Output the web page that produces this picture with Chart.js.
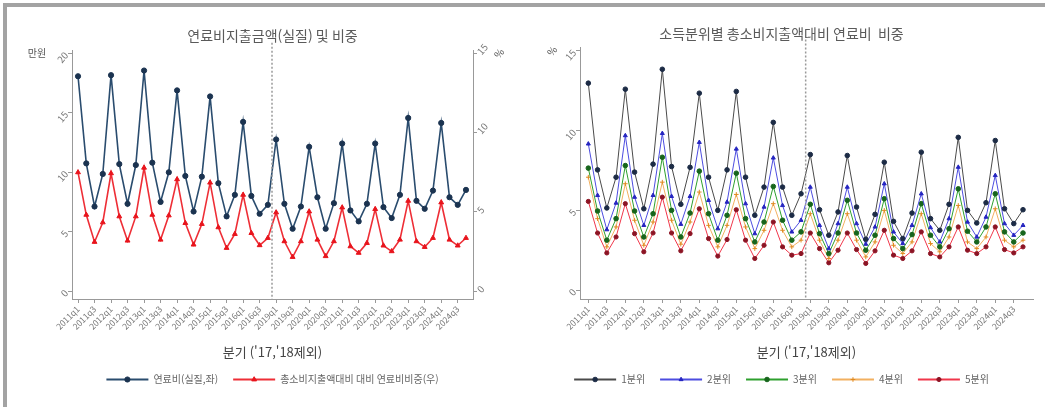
<!DOCTYPE html>
<html lang="ko">
<head>
<meta charset="utf-8">
<script src="https://cdn.jsdelivr.net/npm/chart.js@4.4.1/dist/chart.umd.min.js"></script>
<style>
  html, body { margin: 0; padding: 0; background: #fff; width: 1045px; height: 407px; overflow: hidden; }
  #frame { position: absolute; left: 3px; top: 3px; width: 1042px; height: 404px; box-sizing: border-box;
           border-top: 4px solid #a3a3a3; border-left: 4px solid #a3a3a3; }
  .box { position: absolute; top: 10px; }
  #leftBox { left: 10px; }
  #rightBox { left: 530px; }
</style>
</head>
<body>
<div id="frame"></div>
<div class="box" id="leftBox"><canvas id="fuelChart" width="525" height="392"></canvas></div>
<div class="box" id="rightBox"><canvas id="quintileChart" width="553" height="392"></canvas></div>
<script>
// Quarters ('17, '18 excluded)
const quarterLabels = [
  '2011q1','2011q2','2011q3','2011q4','2012q1','2012q2','2012q3','2012q4',
  '2013q1','2013q2','2013q3','2013q4','2014q1','2014q2','2014q3','2014q4',
  '2015q1','2015q2','2015q3','2015q4','2016q1','2016q2','2016q3','2016q4',
  '2019q1','2019q2','2019q3','2019q4','2020q1','2020q2','2020q3','2020q4',
  '2021q1','2021q2','2021q3','2021q4','2022q1','2022q2','2022q3','2022q4',
  '2023q1','2023q2','2023q3','2023q4','2024q1','2024q2','2024q3','2024q4'
];

// Left chart: fuel spending (real, 10k won) and share of total spending (%)
const fuelCost = [
  18.07, 10.74, 7.11, 9.85, 18.16, 10.68, 7.34, 10.6,
  18.55, 10.8, 7.5, 9.99, 16.88, 9.68, 6.69, 9.62,
  16.37, 9.07, 6.28, 8.09, 14.23, 8.0, 6.5, 7.25,
  12.75, 7.34, 5.24, 7.11, 12.13, 7.89, 5.24, 7.39,
  12.41, 6.78, 5.86, 7.34, 12.41, 7.06, 6.14, 8.09,
  14.56, 7.59, 6.92, 8.45, 14.14, 7.89, 7.25, 8.51
];
const fuelShare = [
  7.49, 4.81, 3.10, 4.33, 7.43, 4.71, 3.18, 4.71,
  7.78, 4.81, 3.24, 4.77, 7.05, 4.29, 2.93, 4.23,
  6.84, 4.02, 2.72, 3.60, 6.07, 3.66, 2.89, 3.35,
  4.96, 3.14, 2.15, 3.14, 5.02, 3.24, 2.20, 3.14,
  5.27, 2.82, 2.41, 3.03, 5.17, 2.87, 2.51, 3.24,
  5.69, 3.14, 2.78, 3.35, 5.59, 3.24, 2.87, 3.35
];

// Right chart: fuel share by income quintile (%)
const q1Share = [
  12.98, 7.54, 5.15, 7.08, 12.6, 7.4, 5.1, 7.9,
  13.85, 7.75, 5.38, 7.7, 12.35, 7.08, 5.0, 7.54,
  12.46, 7.08, 4.69, 6.46, 10.52, 6.46, 4.69, 6.04,
  8.5, 5.04, 3.44, 4.9, 8.44, 5.21, 3.19, 4.75,
  8.02, 4.31, 3.23, 4.83, 8.65, 4.48, 3.75, 5.38,
  9.58, 5.0, 4.21, 5.48, 9.38, 5.1, 4.17, 5.04
];
const q2Share = [
  9.17, 5.94, 3.79, 5.46, 9.69, 5.83, 4.06, 5.94,
  9.83, 5.88, 4.13, 5.88, 9.27, 5.63, 3.85, 5.52,
  8.85, 5.42, 3.54, 5.21, 8.29, 5.31, 3.65, 4.38,
  6.46, 4.06, 2.6, 4.17, 6.46, 4.17, 2.88, 3.96,
  6.67, 3.65, 2.92, 4.06, 6.04, 3.92, 3.02, 4.48,
  7.71, 4.27, 3.33, 4.58, 7.19, 4.17, 3.44, 4.06
];
const q3Share = [
  7.65, 4.96, 3.13, 4.48, 7.81, 4.96, 3.33, 4.79,
  8.33, 5.0, 3.33, 4.83, 7.46, 4.79, 3.13, 4.69,
  7.33, 4.48, 3.02, 4.27, 6.5, 4.38, 3.13, 3.65,
  5.38, 3.54, 2.29, 3.58, 5.63, 3.58, 2.5, 3.44,
  5.73, 3.23, 2.6, 3.48, 5.42, 3.44, 2.71, 3.85,
  6.35, 3.69, 3.02, 3.96, 6.04, 3.65, 3.02, 3.58
];
const q4Share = [
  7.08, 4.48, 2.71, 3.96, 6.67, 4.38, 2.81, 4.27,
  6.77, 4.38, 2.88, 4.27, 6.15, 4.06, 2.71, 4.06,
  6.0, 3.96, 2.6, 3.75, 5.42, 3.75, 2.71, 3.13,
  4.79, 3.13, 1.98, 3.13, 4.79, 3.13, 2.08, 3.02,
  5.0, 2.81, 2.29, 3.02, 4.79, 2.92, 2.4, 3.33,
  5.31, 3.02, 2.6, 3.33, 5.1, 3.13, 2.71, 3.13
];
const q5Share = [
  5.56, 3.58, 2.33, 3.33, 5.42, 3.54, 2.4, 3.58,
  5.83, 3.58, 2.46, 3.54, 5.1, 3.23, 2.13, 3.17,
  5.04, 3.13, 1.98, 2.81, 4.27, 2.71, 2.19, 2.29,
  3.58, 2.6, 1.71, 2.5, 3.58, 2.54, 1.67, 2.46,
  3.75, 2.19, 1.98, 2.46, 3.65, 2.29, 2.08, 2.71,
  3.96, 2.5, 2.29, 2.71, 3.96, 2.54, 2.33, 2.71
];

// Axis ticks
const wonTicks = [0, 5, 10, 15, 20];
const pctTicks = [0, 5, 10, 15];
const labelStep = 2;          // every other quarter gets a label
const breakBetween = ['2016q4', '2019q1'];

Chart.defaults.font.family = "'Noto Sans CJK KR', 'Noto Sans', sans-serif";
Chart.defaults.color = '#666';

const toPoints = arr => arr.map((v, i) => ({x: i, y: v}));

// dotted separator where 2017-2018 is cut out
const breakLine = {
  id: 'breakLine',
  afterDatasetsDraw(chart) {
    const x = chart.scales.x;
    const a = quarterLabels.indexOf(breakBetween[0]);
    const b = quarterLabels.indexOf(breakBetween[1]);
    const px = x.getPixelForValue((a + b) / 2);
    const ctx = chart.ctx;
    ctx.save();
    ctx.strokeStyle = '#9a9a9a';
    ctx.lineWidth = 1.5;
    ctx.setLineDash([2, 2]);
    ctx.beginPath();
    ctx.moveTo(px, chart.chartArea.top - 8);
    ctx.lineTo(px, chart.chartArea.bottom);
    ctx.stroke();
    ctx.restore();
  }
};

// draws the point marker on top of the line swatch in the legend
const legendMarkers = {
  id: 'legendMarkers',
  afterDraw(chart) {
    const lg = chart.legend;
    if (!lg || !lg.legendHitBoxes) return;
    const ctx = chart.ctx;
    const fs = Chart.helpers.toFont(lg.options.labels.font).size;
    const bw = lg.options.labels.boxWidth;
    lg.legendItems.forEach((item, i) => {
      const hb = lg.legendHitBoxes[i];
      const ds = chart.data.datasets[item.datasetIndex];
      ctx.save();
      ctx.fillStyle = ds.pointBackgroundColor;
      ctx.strokeStyle = ds.pointBorderColor;
      Chart.helpers.drawPoint(ctx, {pointStyle: ds.pointStyle, radius: ds.pointRadius, borderWidth: 1, rotation: 0},
        hb.left + bw / 2, hb.top + fs / 2);
      ctx.restore();
    });
  }
};

// unit captions next to the top ticks
const unitLabels = {
  id: 'unitLabels',
  afterDraw(chart, args, opts) {
    const ctx = chart.ctx;
    (opts.items || []).forEach(u => {
      const s = chart.scales[u.scale];
      const y = s.getPixelForValue(u.value);
      const x = u.side === 'left' ? s.right + u.dx : s.left + u.dx;
      ctx.save();
      ctx.translate(x, y + u.dy);
      ctx.rotate(-(u.rotation || 0) * Math.PI / 180);
      ctx.fillStyle = '#555';
      ctx.font = "10px 'Noto Sans CJK KR', sans-serif";
      ctx.textAlign = 'center';
      ctx.textBaseline = 'middle';
      ctx.fillText(u.text, 0, 0);
      ctx.restore();
    });
  }
};

function xAxis(min, max) {
  return {
    type: 'linear', min, max,
    afterBuildTicks: s => {
      s.ticks = quarterLabels.map((l, i) => ({value: i})).filter(t => t.value % labelStep === 0);
    },
    ticks: {autoSkip: false, minRotation: 45, maxRotation: 45, color: '#777', font: {size: 8.5}, padding: 1,
            callback: v => quarterLabels[v]},
    grid: {drawOnChartArea: false, tickLength: 4, color: '#999'},
    border: {color: '#999'},
    title: {display: true, text: "분기 ('17,'18제외)", color: '#444', font: {size: 13}, padding: {top: 0, bottom: 0}},
    afterFit: s => { s.height = 60.5; }
  };
}

function yAxis(position, min, max, tickVals, width) {
  return {
    position, min, max,
    afterBuildTicks: s => { s.ticks = tickVals.map(v => ({value: v})); },
    ticks: {minRotation: 50, maxRotation: 50, color: '#777', font: {size: 9.5}, padding: 2},
    grid: {drawOnChartArea: false, tickLength: 4, color: '#999'},
    border: {color: '#999'},
    afterFit: s => { s.width = width; }
  };
}

function legendOpts() {
  return {
    position: 'bottom',
    labels: {
      boxWidth: 42, boxHeight: 2, padding: 15, color: '#666', font: {size: 10},
      generateLabels: chart => Chart.defaults.plugins.legend.labels.generateLabels(chart)
        .map(l => Object.assign(l, {fillStyle: l.strokeStyle, lineWidth: 0}))
    }
  };
}

function series(label, data, color, markColor, style, radius, width, axis) {
  return {
    label, data: toPoints(data), yAxisID: axis,
    borderColor: color, backgroundColor: color, borderWidth: width,
    pointStyle: style, pointRadius: radius,
    pointBackgroundColor: markColor, pointBorderColor: markColor, pointBorderWidth: 1,
    tension: 0, fill: false
  };
}

new Chart(document.getElementById('fuelChart'), {
  type: 'line',
  data: {
    datasets: [
      series('연료비(실질,좌)', fuelCost, '#2a4c6e', '#1b3350', 'circle', 2.6, 1.6, 'y'),
      series('총소비지출액대비 대비 연료비비중(우)', fuelShare, '#ee2e36', '#e8141c', 'triangle', 2.8, 1.6, 'y1')
    ]
  },
  options: {
    responsive: false, animation: false,
    layout: {padding: {top: 5, bottom: 7.5, left: 0, right: 0}},
    scales: {
      x: xAxis(-0.73, 47.85),
      y: yAxis('left', -0.67, 20.21, wonTicks, 62),
      y1: yAxis('right', -0.5, 15.16, pctTicks, 62)
    },
    plugins: {
      title: {display: true, text: '연료비지출금액(실질) 및 비중', color: '#5a5a5a',
              font: {size: 14, weight: 'normal'}, padding: {top: 12, bottom: 7}},
      legend: legendOpts(),
      tooltip: {enabled: false},
      unitLabels: {items: [
        {scale: 'y', side: 'left', value: 20, dx: -35, dy: 0, text: '만원'},
        {scale: 'y1', side: 'right', value: 15, dx: 26, dy: 0, text: '%', rotation: 50}
      ]}
    }
  },
  plugins: [breakLine, legendMarkers, unitLabels]
});

new Chart(document.getElementById('quintileChart'), {
  type: 'line',
  data: {
    datasets: [
      series('1분위', q1Share, '#4a4a4a', '#1c2b45', 'circle', 2.3, 1, 'y'),
      series('2분위', q2Share, '#4d4de0', '#2525c0', 'triangle', 2.3, 1, 'y'),
      series('3분위', q3Share, '#2ea02e', '#17651c', 'circle', 2.3, 1, 'y'),
      series('4분위', q4Share, '#f2b060', '#e08a20', 'cross', 2.3, 1, 'y'),
      series('5분위', q5Share, '#f0364a', '#8c1424', 'circle', 2.1, 1, 'y')
    ]
  },
  options: {
    responsive: false, animation: false,
    layout: {padding: {top: 5, bottom: 7.5, left: 0, right: 50}},
    scales: {
      x: xAxis(-0.9, 48.08),
      y: yAxis('left', -0.56, 15.21, pctTicks, 50)
    },
    plugins: {
      title: {display: true, text: '소득분위별 총소비지출액대비 연료비  비중', color: '#5a5a5a',
              font: {size: 14, weight: 'normal'}, padding: {top: 10, bottom: 5.8}},
      legend: legendOpts(),
      tooltip: {enabled: false},
      unitLabels: {items: [
        {scale: 'y', side: 'left', value: 15, dx: -28, dy: 0, text: '%', rotation: 50}
      ]}
    }
  },
  plugins: [breakLine, legendMarkers, unitLabels]
});
</script>
</body>
</html>
